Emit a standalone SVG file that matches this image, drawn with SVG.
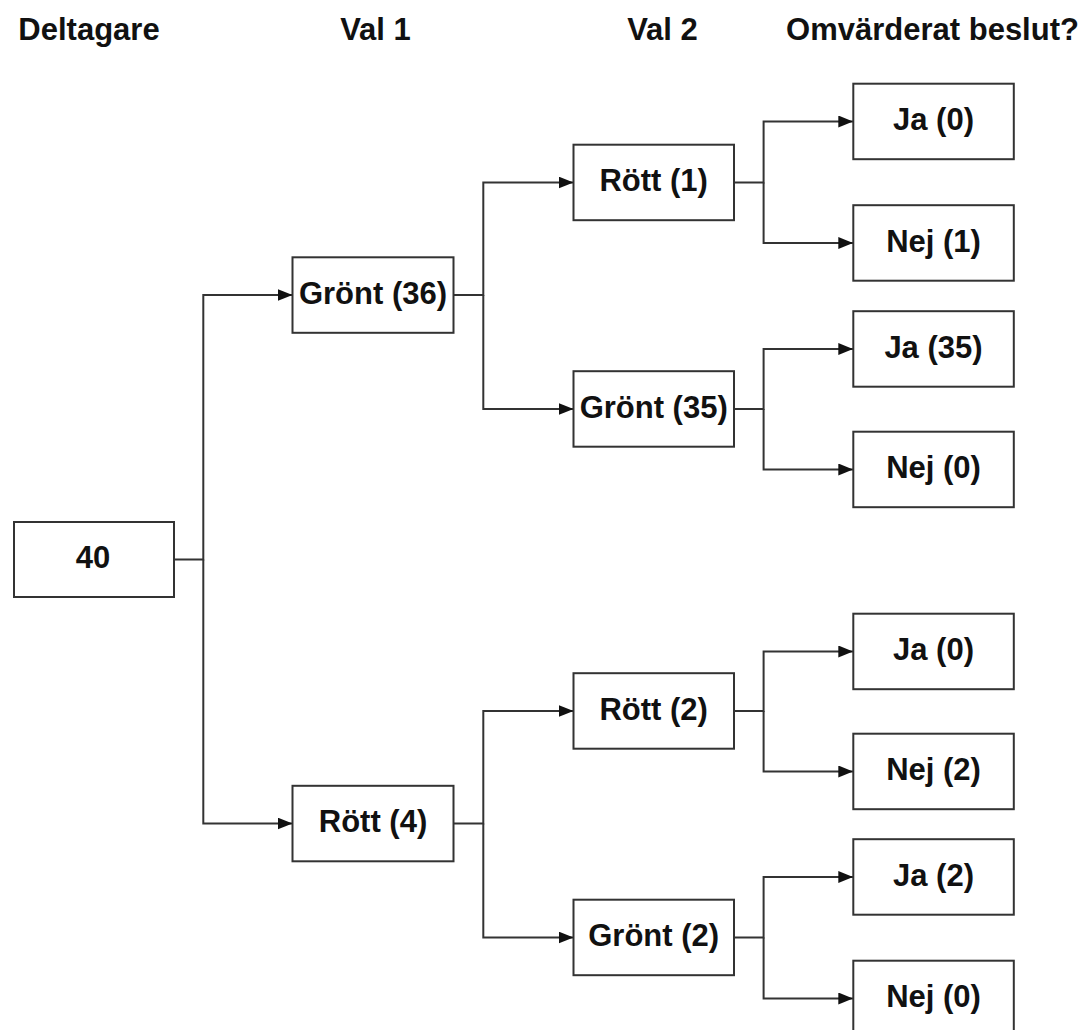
<svg xmlns="http://www.w3.org/2000/svg" width="1081" height="1030" viewBox="0 0 1081 1030">
<style>
.box{fill:#fff;stroke:#333;stroke-width:2}
.lbl{font-family:"Liberation Sans",Arial,sans-serif;font-weight:bold;font-size:31px;fill:#111;text-anchor:middle}
.con{fill:none;stroke:#333;stroke-width:2}
</style>
<defs>
<marker id="ah" markerUnits="userSpaceOnUse" markerWidth="15" markerHeight="12" refX="15" refY="6" orient="auto">
<path d="M0,0 L15,6 L0,12 z" fill="#111"/>
</marker>
</defs>
<rect width="1081" height="1030" fill="#fff"/>
<g id="headers">
<text class="lbl" x="89" y="39.5">Deltagare</text>
<text class="lbl" x="375.5" y="39.5">Val 1</text>
<text class="lbl" x="662.5" y="39.5">Val 2</text>
<text class="lbl" x="932.5" y="39.5">Omvärderat beslut?</text>
</g>
<g id="connectors">
<path class="con" d="M174,559.5 H203.3 V295 H292.5" marker-end="url(#ah)"/>
<path class="con" d="M203.3,559.5 V823.5 H292.5" marker-end="url(#ah)"/>
<path class="con" d="M453.5,295 H483.3 V182.5 H573.5" marker-end="url(#ah)"/>
<path class="con" d="M483.3,295 V409 H573.5" marker-end="url(#ah)"/>
<path class="con" d="M453.5,823.5 H483.3 V711 H573.5" marker-end="url(#ah)"/>
<path class="con" d="M483.3,823.5 V937.5 H573.5" marker-end="url(#ah)"/>
<path class="con" d="M734,182.5 H763.6 V121.5 H853.3" marker-end="url(#ah)"/>
<path class="con" d="M763.6,182.5 V243 H853.3" marker-end="url(#ah)"/>
<path class="con" d="M734,409 H763.6 V349 H853.3" marker-end="url(#ah)"/>
<path class="con" d="M763.6,409 V469.5 H853.3" marker-end="url(#ah)"/>
<path class="con" d="M734,711 H763.6 V651.5 H853.3" marker-end="url(#ah)"/>
<path class="con" d="M763.6,711 V771.5 H853.3" marker-end="url(#ah)"/>
<path class="con" d="M734,937.5 H763.6 V877 H853.3" marker-end="url(#ah)"/>
<path class="con" d="M763.6,937.5 V998.5 H853.3" marker-end="url(#ah)"/>
</g>
<g id="n-root"><rect class="box" x="14" y="522" width="160" height="75"/><text class="lbl" x="93" y="568">40</text></g>
<g id="n-g36"><rect class="box" x="292.5" y="257.3" width="161" height="75.5"/><text class="lbl" x="373" y="303.5">Grönt (36)</text></g>
<g id="n-r4"><rect class="box" x="292.5" y="785.8" width="161" height="75.5"/><text class="lbl" x="373" y="832">Rött (4)</text></g>
<g id="n-r1"><rect class="box" x="573.5" y="144.7" width="160.5" height="75.5"/><text class="lbl" x="653.7" y="191">Rött (1)</text></g>
<g id="n-g35"><rect class="box" x="573.5" y="371.2" width="160.5" height="75.5"/><text class="lbl" x="653.7" y="417.5">Grönt (35)</text></g>
<g id="n-r2"><rect class="box" x="573.5" y="673.2" width="160.5" height="75.5"/><text class="lbl" x="653.7" y="719.5">Rött (2)</text></g>
<g id="n-g2"><rect class="box" x="573.5" y="899.7" width="160.5" height="75.5"/><text class="lbl" x="653.7" y="946">Grönt (2)</text></g>
<g id="n-l1"><rect class="box" x="853.3" y="83.7" width="160.5" height="75.5"/><text class="lbl" x="933.5" y="130">Ja (0)</text></g>
<g id="n-l2"><rect class="box" x="853.3" y="205.2" width="160.5" height="75.5"/><text class="lbl" x="933.5" y="251.5">Nej (1)</text></g>
<g id="n-l3"><rect class="box" x="853.3" y="311.2" width="160.5" height="75.5"/><text class="lbl" x="933.5" y="357.5">Ja (35)</text></g>
<g id="n-l4"><rect class="box" x="853.3" y="431.7" width="160.5" height="75.5"/><text class="lbl" x="933.5" y="478">Nej (0)</text></g>
<g id="n-l5"><rect class="box" x="853.3" y="613.7" width="160.5" height="75.5"/><text class="lbl" x="933.5" y="660">Ja (0)</text></g>
<g id="n-l6"><rect class="box" x="853.3" y="733.7" width="160.5" height="75.5"/><text class="lbl" x="933.5" y="780">Nej (2)</text></g>
<g id="n-l7"><rect class="box" x="853.3" y="839.2" width="160.5" height="75.5"/><text class="lbl" x="933.5" y="885.5">Ja (2)</text></g>
<g id="n-l8"><rect class="box" x="853.3" y="960.7" width="160.5" height="75.5"/><text class="lbl" x="933.5" y="1007">Nej (0)</text></g>
</svg>
